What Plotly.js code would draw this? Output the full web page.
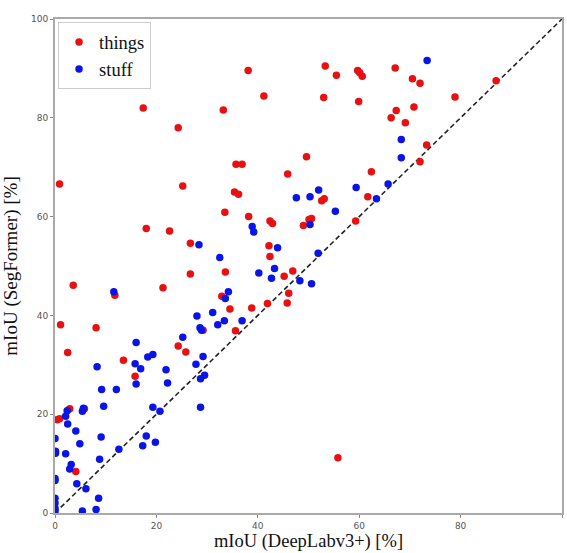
<!DOCTYPE html>
<html>
<head>
<meta charset="utf-8">
<script src="https://cdn.plot.ly/plotly-3.0.1.min.js"></script>
<style>html,body{margin:0;padding:0;background:#fff;}</style>
</head>
<body>
<div id="chart" style="width:567px;height:553px;"></div>
<script>
// things (red)
const thingsX = [0.9,1.1,2.5,3.6,2.9,0.4,0.9,4.1,5.8,8.1,11.8,13.5,15.8,17.4,18.0,21.3,22.6,24.3,24.3,25.2,25.8,26.7,26.7,29.2,33.2,33.5,33.6,32.9,34.5,35.6,35.4,36.2,35.7,36.9,38.1,38.2,38.8,41.2,41.9,42.2,42.4,42.4,42.9,45.2,45.9,46.1,45.8,46.9,49.6,49.0,50.1,50.6,52.6,53.1,53.0,53.3,55.5,55.8,59.3,59.7,60.1,60.6,59.9,61.7,62.4,66.3,67.1,67.3,69.1,70.5,70.8,72.0,72.0,73.3,78.9,87.0];
const thingsY = [66.6,38.1,32.5,46.1,21.1,18.9,19.1,8.4,21.1,37.5,44.1,30.9,27.7,82.0,57.6,45.6,57.1,78.0,33.8,66.2,32.6,54.6,48.4,37.0,81.6,60.9,48.8,43.9,41.3,36.9,65.0,64.5,70.6,70.6,89.6,60.0,41.5,84.4,42.4,54.1,51.9,59.1,58.6,47.9,68.6,44.5,42.5,49.0,72.1,58.2,59.4,59.6,63.2,63.6,84.1,90.5,88.6,11.2,59.1,89.6,89.1,88.4,83.3,64.0,69.1,80.0,90.1,81.5,79.0,87.9,82.2,87.0,71.1,74.5,84.2,87.5];
// stuff (blue)
const stuffX = [0,0.1,0.1,0,0,0,0,0,0,2.1,2.4,2.5,2.1,2.9,3.2,4.1,4.3,4.9,5.4,5.6,5.4,6.1,8.1,8.6,8.3,8.8,9.1,9.2,9.6,11.6,12.1,12.6,15.8,16.0,16.0,16.9,17.3,18.0,18.3,19.3,19.3,19.8,20.7,21.9,22.2,25.2,27.8,28.0,28.4,28.6,28.9,28.7,28.7,29.2,29.5,31.1,32.1,32.5,33.4,33.6,34.2,36.9,38.9,39.2,40.2,42.7,43.3,43.9,47.6,48.3,50.3,50.3,50.6,51.9,52.0,55.3,59.4,63.4,65.7,68.3,68.3,73.4];
const stuffY = [15.1,12.5,12.1,7.0,6.6,3.0,2.0,1.0,0.3,19.6,20.7,18.0,12.0,8.9,9.8,16.6,5.9,14.0,20.6,21.2,0.4,4.9,0.7,3.0,29.6,10.9,15.4,25.0,21.6,44.8,25.0,12.9,30.2,34.5,26.1,29.2,13.6,15.6,31.6,32.1,21.4,14.3,20.6,29.0,26.3,35.6,30.1,39.9,54.3,37.5,37.0,27.2,21.4,31.7,27.9,40.6,38.1,51.7,38.9,43.4,44.8,38.9,58.0,56.9,48.6,47.5,49.5,53.7,63.8,47.0,64.0,58.4,46.4,52.6,65.4,61.1,65.9,63.6,66.6,71.9,75.6,91.6];
const diagX = [0, 100];
const diagY = [0, 100];
const tickVals = [0, 20, 40, 60, 80, 100];

const traces = [
  {x: diagX, y: diagY, mode: 'lines', line: {color: '#222', width: 1.6, dash: '5px,3px'}, showlegend: false, hoverinfo: 'skip'},
  {x: thingsX, y: thingsY, mode: 'markers', name: 'things', marker: {color: '#e81010', size: 7.5}},
  {x: stuffX, y: stuffY, mode: 'markers', name: 'stuff', marker: {color: '#0a14e6', size: 7.5}}
];

const axisCommon = {
  range: [0, 100], tickvals: tickVals, ticks: 'outside', ticklen: 3, tickcolor: '#888',
  showline: true, linecolor: '#aaa', linewidth: 2, mirror: true, showgrid: false, zeroline: false,
  tickfont: {family: 'DejaVu Sans', size: 9, color: '#555'}
};

const layout = {
  width: 567, height: 553,
  margin: {l: 55, r: 5, t: 19, b: 40},
  paper_bgcolor: '#fff', plot_bgcolor: '#fff',
  xaxis: Object.assign({}, axisCommon, {title: {text: 'mIoU (DeepLabv3+) [%]', font: {family: 'Liberation Serif', size: 18.5, color: '#111'}, standoff: 4}}),
  yaxis: Object.assign({}, axisCommon, {title: {text: 'mIoU (SegFormer) [%]', font: {family: 'Liberation Serif', size: 19, color: '#111'}, standoff: 10}}),
  legend: {x: 0.006, y: 0.993, xanchor: 'left', yanchor: 'top', bordercolor: '#ccc', borderwidth: 1, bgcolor: '#fff',
    font: {family: 'Liberation Serif', size: 18.5, color: '#111'}, tracegroupgap: 0},
  showlegend: true
};

Plotly.newPlot('chart', traces, layout, {displayModeBar: false, staticPlot: true});
</script>
</body>
</html>
